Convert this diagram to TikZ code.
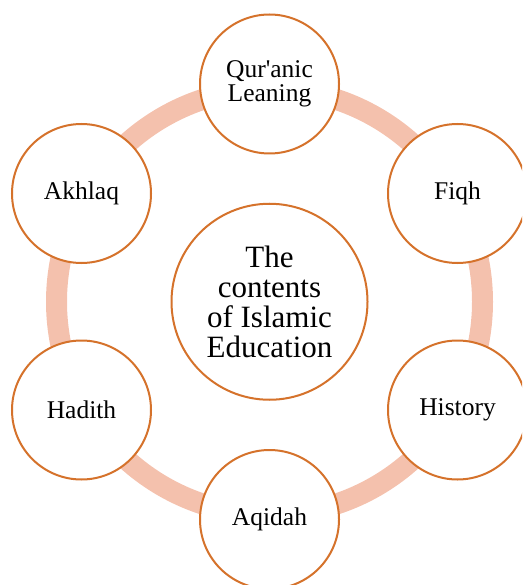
\documentclass[tikz,border=0pt]{standalone}
\usepackage{fontspec}
\setmainfont{Liberation Serif}
\definecolor{ringc}{HTML}{F4C1AD}
\definecolor{edgec}{HTML}{D5722B}
\begin{document}
\begin{tikzpicture}[x=1pt,y=-1pt,
  item/.style={circle, draw=edgec, line width=2pt, fill=white, minimum size=139pt,
    inner sep=0pt, align=center, font=\fontsize{25.5}{24.5}\selectfont},
  hub/.style={circle, draw=edgec, line width=2pt, fill=white, minimum size=196pt,
    inner sep=0pt, align=center, font=\fontsize{31}{30}\selectfont},
  ring/.style={draw=ringc, line width=21pt}]
\clip (0,0) rectangle (522,585);
\coordinate (c) at (269.5,301.75);
\draw[ring] (c) circle[radius=213];
\node[hub] (hub) at (c) {The\\contents\\of Islamic\\Education};
\node[item] (quran) at (269.5,84) {Qur\textquotesingle anic\\Leaning};
\node[item] (fiqh) at (457.5,193.5) {Fiqh};
\node[item] (history) at (457.5,410) {History};
\node[item] (aqidah) at (269.5,519.5) {Aqidah};
\node[item] (hadith) at (81.5,410) {Hadith};
\node[item] (akhlaq) at (81.5,193.5) {Akhlaq};
\end{tikzpicture}
\end{document}
